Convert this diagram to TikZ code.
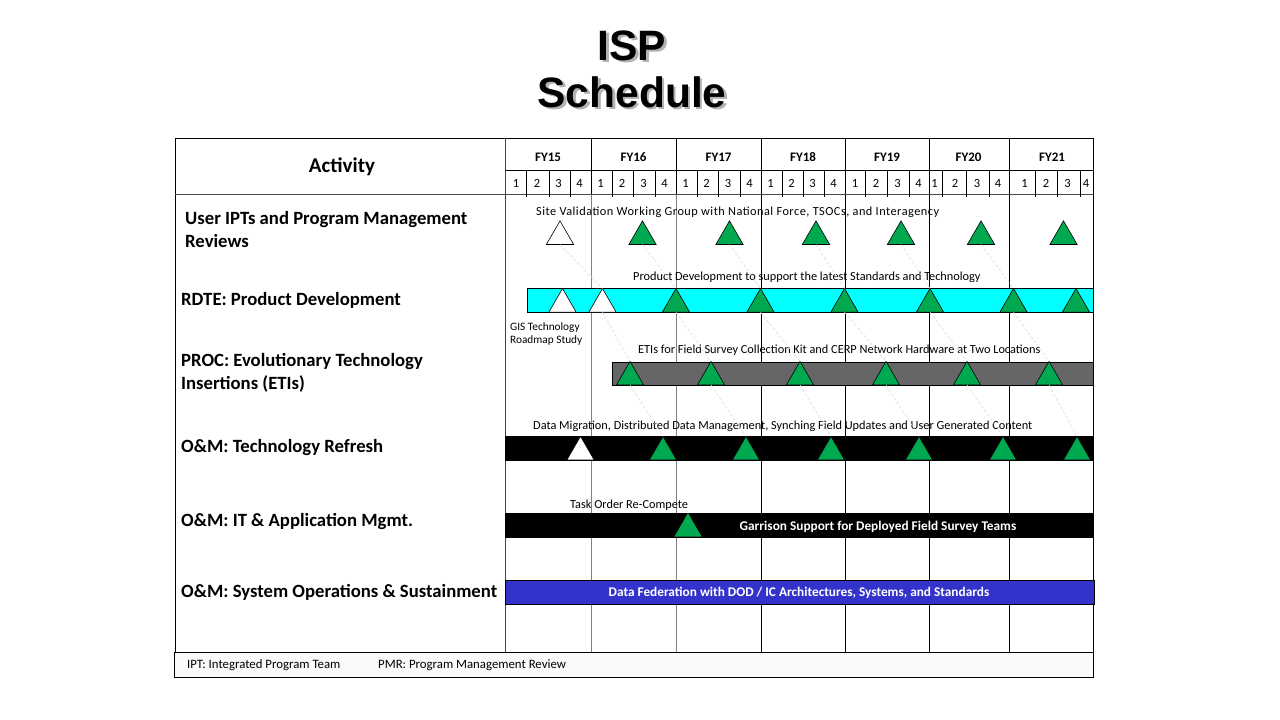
\documentclass[tikz,border=0pt]{standalone}
\usepackage{fontspec}
\setmainfont{Carlito}
\newfontfamily\headfont{Liberation Sans}
\usetikzlibrary{shapes.geometric}

\definecolor{msgreen}{RGB}{0,168,80}
\definecolor{barcyan}{RGB}{0,255,255}
\definecolor{bargray}{RGB}{102,102,102}
\definecolor{barblue}{RGB}{51,51,204}
\definecolor{footfill}{RGB}{250,250,250}

\begin{document}
\begin{tikzpicture}[x=1pt,y=-1pt,
  titletext/.style={font=\headfont\bfseries\fontsize{42.5}{46}\selectfont, anchor=base, inner sep=0pt},
  tri/.style={regular polygon, regular polygon sides=3, minimum size=31.5pt,
              inner sep=0pt, outer sep=0pt, draw=black, line width=0.6pt},
  milestone/.style={tri, fill=msgreen},
  openmile/.style={tri, fill=white},
  link/.style={draw=black!14, line width=0.6pt, dash pattern=on 3pt off 2pt},
  bar/.style={draw=black, line width=0.7pt, anchor=north west, inner sep=0pt, outer sep=0pt},
  actlabel/.style={font=\bfseries\fontsize{18.7}{23}\selectfont, anchor=base west, inner sep=0pt},
  note/.style={font=\fontsize{12.3}{13}\selectfont, anchor=base west, inner sep=0pt},
  smallnote/.style={font=\fontsize{11.3}{13}\selectfont, anchor=base west, inner sep=0pt},
  bartext/.style={font=\bfseries\fontsize{13.3}{15}\selectfont, text=white, anchor=base, inner sep=0pt},
  fytext/.style={font=\bfseries\fontsize{13}{15}\selectfont, anchor=base, inner sep=0pt},
  qtext/.style={font=\fontsize{12.5}{14}\selectfont, anchor=base, inner sep=0pt},
  foot/.style={font=\fontsize{12.8}{14}\selectfont, anchor=base west, inner sep=0pt},
  grid/.style={draw=black, line width=0.8pt},
  softgrid/.style={draw=black!50, line width=0.8pt}
]
\useasboundingbox (0,0) rectangle (1280,720);
\fill[white] (0,0) rectangle (1280,720);

% ---- title with drop shadow
\node (isps) [titletext, text=black!30] at (634.5,62.5) {ISP};
\node (schs) [titletext, text=black!30] at (634.5,109.5) {Schedule};
\node (isp)  [titletext] at (632,60) {ISP};
\node (sch)  [titletext] at (632,107) {Schedule};

% ---- table frame and header rules
\draw[grid] (175,138) -- (1093,138);
\draw[grid] (175,138) -- (175,652);
\draw[grid] (1093,138) -- (1093,652);
\draw[grid] (505,170) -- (1093,170);
\draw[draw=black!70, line width=1.8pt] (175,194.5) -- (1093,194.5);
\draw[draw=black!75, line width=0.8pt] (505,138) -- (505,652);

% year boundaries in the header
\foreach \x in {591,676,761,845,929.5,1009.5}
  \draw[grid] (\x,138) -- (\x,194);
% year boundaries through the body
\foreach \x in {591,676}
  \draw[softgrid] (\x,195) -- (\x,652);
\foreach \x in {761,845,929.5,1009.5}
  \draw[grid] (\x,195) -- (\x,652);
% quarter rules
\foreach \x in {526.5,549,570, 612,633.5,655, 697,718.5,740, 782,803.5,824.5,
                865,887,909, 942,966,989, 1035,1057,1080}
  \draw[grid, line width=0.6pt] (\x,170) -- (\x,197);

% header texts
\node (act) [font=\bfseries\fontsize{21}{23}\selectfont, anchor=base, inner sep=0pt] at (342,172.5) {Activity};
\foreach \x/\t in {548/FY15,633.5/FY16,718.5/FY17,803/FY18,887/FY19,968.5/FY20,1052/FY21}
  \node[fytext] at (\x,161.5) {\t};
\foreach \x/\q in {516/1,537/2,558.5/3,579.5/4, 600.5/1,622/2,643.5/3,664.5/4,
                   685.5/1,706.5/2,728/3,749.5/4, 770.5/1,791.5/2,812.5/3,833.5/4,
                   855/1,876/2,897.5/3,918.5/4, 934.5/1,955/2,977/3,998/4,
                   1024.5/1,1046/2,1067.5/3,1086/4}
  \node[qtext] at (\x,187.5) {\q};

% ---- activity labels
\node (a1a) [actlabel] at (185,224.5) {User IPTs and Program Management};
\node (a1b) [actlabel] at (185,247.5) {Reviews};
\node (a2)  [actlabel] at (181,305.5) {RDTE: Product Development};
\node (a3a) [actlabel] at (181,366.5) {PROC: Evolutionary Technology};
\node (a3b) [actlabel] at (181,389.5) {Insertions (ETIs)};
\node (a4)  [actlabel] at (181,452.5) {O\&M: Technology Refresh};
\node (a5)  [actlabel] at (181,526.5) {O\&M: IT \& Application Mgmt.};
\node (a6)  [actlabel] at (181,597.5) {O\&M: System Operations \& Sustainment};

% ---- bars
\node (barrd) [bar, fill=barcyan, minimum width=566, minimum height=24] at (527,288.5) {};
\node (barproc) [bar, fill=bargray, minimum width=481, minimum height=23] at (612,362) {};
\node (barref) [bar, fill=black, minimum width=588, minimum height=24] at (505,436) {};
\node (barit) [bar, fill=black, minimum width=588, minimum height=24] at (505,513) {};
\node (barops) [bar, fill=barblue, minimum width=589, minimum height=24] at (505.5,580) {};

% ---- notes above the bars
\node (n1) [note, font=\fontsize{12.3}{13}\selectfont\addfontfeature{LetterSpace=4}] at (536,215) {Site Validation Working Group with National Force, TSOCs, and Interagency};
\node (n2) [note] at (633,280) {Product Development to support the latest Standards and Technology};
\node (n3a) [smallnote] at (510,330) {GIS Technology};
\node (n3b) [smallnote] at (510,343) {Roadmap Study};
\node (n4) [note] at (638,353) {ETIs for Field Survey Collection Kit and CERP Network Hardware at Two Locations};
\node (n5) [note] at (533,429) {Data Migration, Distributed Data Management, Synching Field Updates and User Generated Content};
\node (n6) [note] at (570,508) {Task Order Re-Compete};
\node (b5) [bartext] at (878,530.5) {Garrison Support for Deployed Field Survey Teams};
\node (b6) [bartext] at (799,596.5) {Data Federation with DOD / IC Architectures, Systems, and Standards};

% ---- milestones: user IPTs / PMRs
\node (u1) [openmile]  at (560,236.6) {};
\node (u2) [milestone] at (642.5,236.6) {};
\node (u3) [milestone] at (729.5,236.6) {};
\node (u4) [milestone] at (816,236.6) {};
\node (u5) [milestone] at (901,236.6) {};
\node (u6) [milestone] at (981,236.6) {};
\node (u7) [milestone] at (1063.5,236.6) {};
% RDTE
\node (r1) [openmile]  at (562.5,304.3) {};
\node (r2) [openmile]  at (602.5,304.3) {};
\node (r3) [milestone] at (676,304.3) {};
\node (r4) [milestone] at (760.5,304.3) {};
\node (r5) [milestone] at (844.5,304.3) {};
\node (r6) [milestone] at (930,304.3) {};
\node (r7) [milestone] at (1013.5,304.3) {};
\node (r8) [milestone] at (1076,304.3) {};
% PROC
\node (p1) [milestone] at (630,377.1) {};
\node (p2) [milestone] at (711,377.1) {};
\node (p3) [milestone] at (800,377.1) {};
\node (p4) [milestone] at (886,377.1) {};
\node (p5) [milestone] at (967,377.1) {};
\node (p6) [milestone] at (1049,377.1) {};
% Technology refresh
\node (m1) [openmile]  at (580.5,452.1) {};
\node (m2) [milestone] at (663,452.1) {};
\node (m3) [milestone] at (746,452.1) {};
\node (m4) [milestone] at (831,452.1) {};
\node (m5) [milestone] at (919,452.1) {};
\node (m6) [milestone] at (1003,452.1) {};
\node (m7) [milestone] at (1077,452.1) {};
% IT & application management
\node (g1) [milestone, draw=none] at (688,528.8) {};

% ---- faint dependency links between milestone rows
\foreach \a/\b in {u1/r2,u2/r3,u3/r4,u4/r5,u5/r6,u6/r7,
                   r2/p1,r3/p2,r4/p3,r5/p4,r6/p5,r7/p6,
                   p1/m2,p2/m3,p3/m4,p4/m5,p5/m6,p6/m7}
  \draw[link] (\a.south) -- (\b.north);

% ---- table bottom and footer
\draw[grid] (175,652) -- (1093,652);
\node (footer) [draw=black, line width=0.8pt, fill=footfill, anchor=north west,
  minimum width=919, minimum height=25, inner sep=0pt, outer sep=0pt] at (174,652) {};
\node (f1) [foot] at (187,668.5) {IPT: Integrated Program Team};
\node (f2) [foot] at (378,668.5) {PMR: Program Management Review};
\end{tikzpicture}
\end{document}
